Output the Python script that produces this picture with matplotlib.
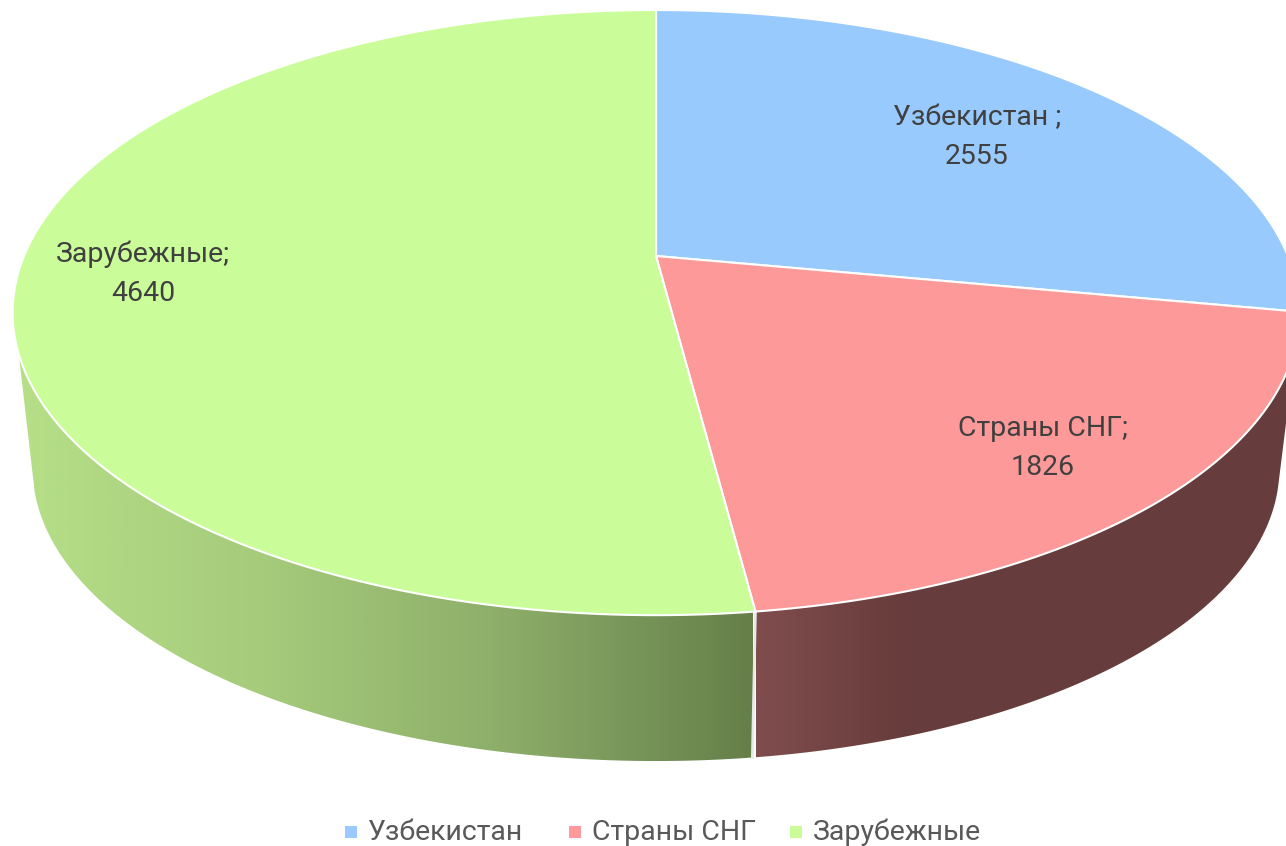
import numpy as np
import matplotlib
matplotlib.use('Agg')
import matplotlib.pyplot as plt
from matplotlib.colors import LinearSegmentedColormap
from matplotlib.patches import Polygon, Rectangle

# Dados
categorias = ['Узбекистан', 'Страны СНГ', 'Зарубежные']
rotulos = ['Узбекистан ;', 'Страны СНГ;', 'Зарубежные;']
valores = [2555, 1826, 4640]

cores = ['#99CAFD', '#FE9999', '#CAFD99']
cor_texto = '#404040'
cor_legenda = '#595959'

# Geometria do disco em pixels
CX, CY = 656, 256
A, B, K = 632, 292, 0.187
ALTURA, ESCALA = 157, 0.969


def projetar(theta, base=False):
    # angulo em graus, sentido horario a partir do topo
    t = np.radians(theta - 2.2 * np.sin(np.radians(theta) / 2) ** 2)
    u = np.sin(t)
    v = np.cos(t)
    w = 1 + K * v
    x = A * u / w
    y = -B * v / w
    if base:
        return CX + ESCALA * x, CY + ALTURA + ESCALA * y
    return CX + x, CY + y


def parede(ax, t_topo, t_base, cmap, x0, x1):
    # a silhueta lateral liga o aro de cima ao aro de baixo em angulos diferentes
    xs, ys = projetar(np.linspace(t_topo[0], t_topo[1], 300))
    xb, yb = projetar(np.linspace(t_base[0], t_base[1], 300), base=True)
    pts = np.column_stack([np.r_[xs, xb[::-1]], np.r_[ys, yb[::-1]]])
    poly = Polygon(pts, closed=True, fc='none', ec='none')
    ax.add_patch(poly)
    grad = np.linspace(0, 1, 400).reshape(1, -1)
    im = ax.imshow(grad, cmap=cmap, extent=[x0, x1, 846, 0], aspect='auto', zorder=1)
    im.set_clip_path(poly)


plt.rcParams['font.family'] = ['Roboto', 'DejaVu Sans']
fig = plt.figure(figsize=(12.86, 8.46), dpi=100)
ax = fig.add_axes([0, 0, 1, 1])

fracoes = np.array(valores) / sum(valores)
limites = np.r_[0, np.cumsum(fracoes)] * 360

# Paredes laterais
cmap_vermelho = LinearSegmentedColormap.from_list('v', [(0, '#7F4D4D'), (0.28, '#683C3C'), (1, '#663D3D')])
cmap_verde = LinearSegmentedColormap.from_list('g', ['#B6DF88', '#A5CB7B', '#8CAD69', '#667F4A'])
parede(ax, (limites[1] + 6, limites[2]), (limites[1] + 3, limites[2]), cmap_vermelho, 756, 1286)
parede(ax, (limites[2], 253), (limites[2], 256), cmap_verde, 18, 753)

# Divisao entre as paredes
xa, ya = projetar(limites[2])
xb, yb = projetar(limites[2], base=True)
ax.plot([xa, xb], [ya, yb], color='#E8E8E8', lw=2, zorder=2)

# Fatias do topo
for i in range(3):
    th = np.linspace(limites[i], limites[i + 1], 300)
    xs, ys = projetar(th)
    pts = np.column_stack([np.r_[CX, xs], np.r_[CY, ys]])
    ax.add_patch(Polygon(pts, closed=True, fc=cores[i], ec='white', lw=1.5, zorder=3))

# Rotulos
pos_rotulos = [(977, 137), (1043, 448), (143, 274)]
for i in range(3):
    ax.text(pos_rotulos[i][0], pos_rotulos[i][1], f'{rotulos[i]}\n{valores[i]}', ha='center', va='center',
            fontsize=20.5, color=cor_texto, linespacing=1.58, zorder=4)

# Legenda
pos_legenda = [(345, 368), (569, 592), (790, 813)]
for i in range(3):
    ax.add_patch(Rectangle((pos_legenda[i][0], 826), 12, 12, fc=cores[i], ec='none'))
    ax.text(pos_legenda[i][1], 832, categorias[i], ha='left', va='center', fontsize=20.5, color=cor_legenda)

ax.set_xlim(0, 1286)
ax.set_ylim(846, 0)
ax.axis('off')
fig.savefig('out.png', dpi=100)
